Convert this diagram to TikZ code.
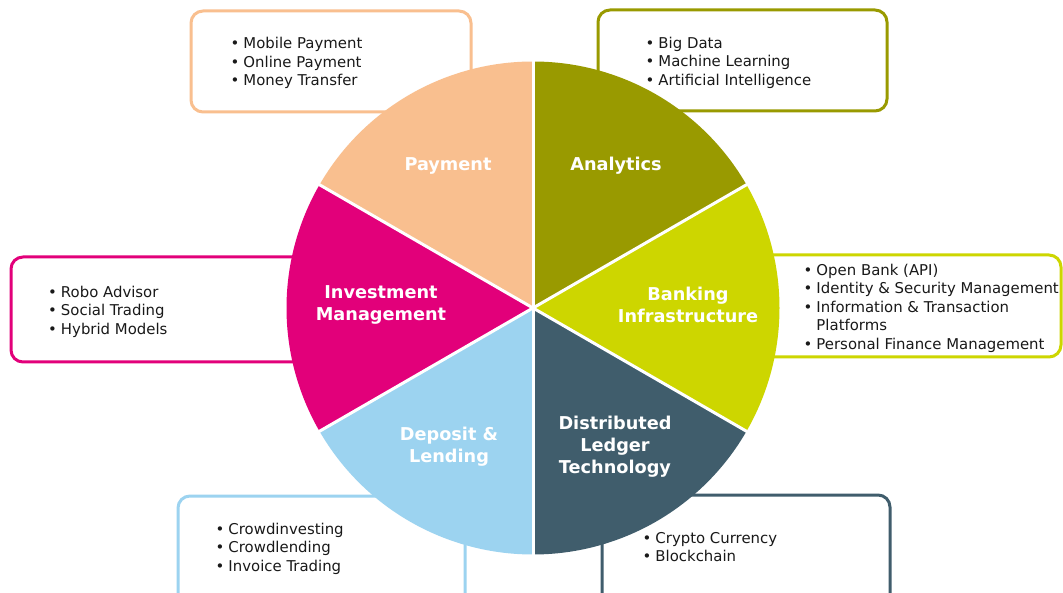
\documentclass[tikz,border=0pt]{standalone}
\usepackage{fontspec}
\setmainfont{DejaVu Sans}
\usetikzlibrary{calc}
\definecolor{cPay}{HTML}{F9BF8F}
\definecolor{cAna}{HTML}{999A00}
\definecolor{cBank}{HTML}{CDD600}
\definecolor{cInv}{HTML}{E2007A}
\definecolor{cDep}{HTML}{9CD3F0}
\definecolor{cDlt}{HTML}{405D6C}
\tikzset{
  boxframe/.style={draw=#1, line width=3pt, rounded corners=12pt, fill=white},
  seglabel/.style={text=white, font=\fontsize{17.7}{22.2}\selectfont\bfseries, align=center, inner sep=0pt},
  listtext/.style={font=\fontsize{14.9}{18.5}\selectfont, anchor=west, inner sep=0pt, text=black!90},
  slice/.style={fill=#1},
  sep/.style={draw=white, line width=3pt},
}
\newcommand\blist[1]{\begin{tabular}{@{}l@{\hspace{4pt}}l@{}}#1\end{tabular}}
\begin{document}
\begin{tikzpicture}[x=1pt,y=-1pt]
\clip (0,0) rectangle (1063,593);
\fill[white] (0,0) rectangle (1063,593);
% boxes
\draw[boxframe=cPay] (191,11) rectangle (471,112);
\draw[boxframe=cAna] (598,10) rectangle (887,111);
\draw[boxframe=cBank] (738,255) rectangle (1061,357);
\draw[boxframe=cInv] (11,257) rectangle (330,362);
\draw[boxframe=cDep] (178,496) rectangle (465,620);
\draw[boxframe=cDlt] (602,495) rectangle (890,620);
% lists
\node[listtext] (payList) at (230.5,63.5) {\blist{•&Mobile Payment\\•&Online Payment\\•&Money Transfer}};
\node[listtext] (anaList) at (645.5,63) {\blist{•&Big Data\\•&Machine Learning\\•&Artificial Intelligence}};
\node[listtext] (bankList) at (803.5,308.5) {\blist{•&Open Bank (API)\\•&Identity \& Security Management\\•&Information \& Transaction\\&Platforms\\•&Personal Finance Management}};
\node[listtext] (invList) at (48,312) {\blist{•&Robo Advisor\\•&Social Trading\\•&Hybrid Models}};
\node[listtext] (depList) at (215.5,549) {\blist{•&Crowdinvesting\\•&Crowdlending\\•&Invoice Trading}};
\node[listtext] (dltList) at (642.5,549) {\blist{•&Crypto Currency\\•&Blockchain}};
% pie
\coordinate (c) at (533,308);
\fill[slice=cAna] (c) -- ($(c)+(-30:246.5)$) arc[start angle=-30, end angle=-90, radius=246.5] -- cycle;
\fill[slice=cPay] (c) -- ($(c)+(-90:246.5)$) arc[start angle=-90, end angle=-150, radius=246.5] -- cycle;
\fill[slice=cInv] (c) -- ($(c)+(-150:246.5)$) arc[start angle=-150, end angle=-210, radius=246.5] -- cycle;
\fill[slice=cDep] (c) -- ($(c)+(-210:246.5)$) arc[start angle=-210, end angle=-270, radius=246.5] -- cycle;
\fill[slice=cDlt] (c) -- ($(c)+(-270:246.5)$) arc[start angle=-270, end angle=-330, radius=246.5] -- cycle;
\fill[slice=cBank] (c) -- ($(c)+(30:246.5)$) arc[start angle=30, end angle=-30, radius=246.5] -- cycle;
\foreach \a in {30,90,150,210,270,330}
  \draw[sep] (c) -- ($(c)+(\a:247)$);
% labels
\node[seglabel] (payLbl) at (448,166) {Payment};
\node[seglabel] (anaLbl) at (616,166) {Analytics};
\node[seglabel] (invLbl) at (381,305) {Investment\\Management};
\node[seglabel] (bankLbl) at (688,305) {Banking\\Infrastructure};
\node[seglabel] (depLbl) at (449,447) {Deposit \&\\Lending};
\node[seglabel] (dltLbl) at (615,446.5) {Distributed\\Ledger\\Technology};
\end{tikzpicture}
\end{document}
